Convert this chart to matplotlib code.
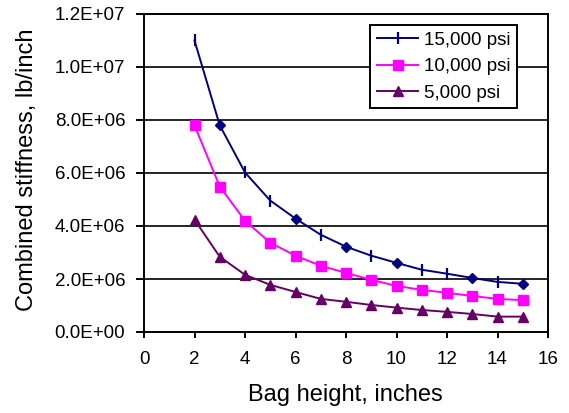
import matplotlib
matplotlib.use("Agg")
import matplotlib.pyplot as plt
from matplotlib.ticker import FuncFormatter, MultipleLocator

plt.rcParams["font.family"] = ["Liberation Sans", "DejaVu Sans"]

bag_height = [2, 3, 4, 5, 6, 7, 8, 9, 10, 11, 12, 13, 14, 15]
stiff_15000 = [1.10e7, 7.80e6, 6.02e6, 4.96e6, 4.28e6, 3.67e6, 3.22e6,
               2.88e6, 2.61e6, 2.35e6, 2.20e6, 2.04e6, 1.89e6, 1.82e6]
stiff_10000 = [7.80e6, 5.49e6, 4.20e6, 3.37e6, 2.88e6, 2.50e6, 2.23e6,
               1.97e6, 1.74e6, 1.59e6, 1.48e6, 1.36e6, 1.25e6, 1.20e6]
stiff_5000 = [4.24e6, 2.84e6, 2.16e6, 1.78e6, 1.51e6, 1.25e6, 1.14e6,
              1.02e6, 0.92e6, 0.83e6, 0.76e6, 0.68e6, 0.58e6, 0.58e6]

# the 15,000 psi marker renders as a tick on some points and a diamond on others
tick_points = [0, 2, 3, 5, 7, 9, 10, 12]
diamond_points = [1, 4, 6, 8, 11, 13]

NAVY = "#000080"
MAGENTA = "#FF00FF"
PURPLE = "#660066"

fig = plt.figure(figsize=(5.69, 4.13), dpi=100)
ax = fig.add_axes([144 / 569, 1 - 332 / 413, 404 / 569, 318 / 413])

ax.plot(bag_height, stiff_15000, color=NAVY, lw=1.4, marker="|", ms=8, mew=1.6,
        markevery=tick_points, label="15,000 psi", zorder=3)
ax.plot(bag_height, stiff_15000, color=NAVY, lw=0, marker="D", ms=5,
        markevery=diamond_points, zorder=3)
ax.plot(bag_height, stiff_10000, color=MAGENTA, lw=1.4, marker="s", ms=6.5,
        label="10,000 psi", zorder=3)
ax.plot(bag_height, stiff_5000, color=PURPLE, lw=1.4, marker="^", ms=6.5,
        label="5,000 psi", zorder=3)

ax.set_xlim(0, 16)
ax.set_ylim(0, 1.2e7)
ax.xaxis.set_major_locator(MultipleLocator(2))
ax.yaxis.set_major_locator(MultipleLocator(2e6))
ax.yaxis.set_major_formatter(FuncFormatter(lambda v, p: f"{v:.1E}"))

ax.grid(axis="y", color="black", lw=1.2)
for s in ax.spines.values():
    s.set_linewidth(1.4)
ax.tick_params(axis="y", direction="out", length=5.5, width=1.4, pad=8, labelsize=13.5)
ax.tick_params(axis="x", direction="out", length=4.5, width=1.4, pad=9, labelsize=13.5)

ax.set_xlabel("Bag height, inches", fontsize=17)
ax.set_ylabel("Combined stiffness, lb/inch", fontsize=17)
ax.xaxis.set_label_coords(0.498, -0.165)
ax.yaxis.set_label_coords(-0.262, 0.509)

leg = ax.legend(loc="upper right", bbox_to_anchor=(0.923, 0.965), borderaxespad=0,
                fontsize=13.5, fancybox=False, framealpha=1, edgecolor="black",
                handlelength=2.2, handletextpad=0.3, labelspacing=0.5,
                borderpad=0.35)
leg.get_frame().set_linewidth(1.4)

fig.savefig("out.png", dpi=100)
